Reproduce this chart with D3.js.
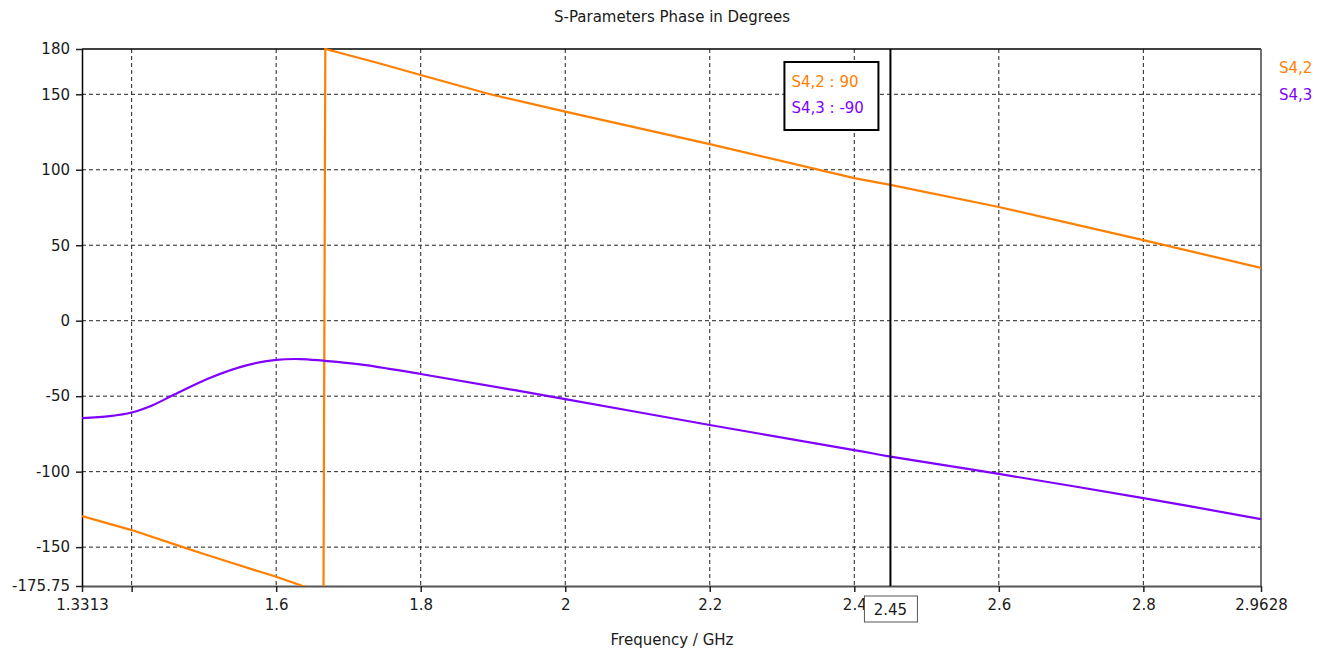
<!DOCTYPE html>
<html>
    <head>
        <meta charset="utf-8">
        <style>
          body { margin: 0; background: #fff; }
          text { font-family: "DejaVu Sans", sans-serif; font-size: 15px; fill: #1a1a1a; }
        </style>
    </head>
    <body>
        <svg width="1335" height="657"></svg>
        <script src="https://d3js.org/d3.v7.min.js"></script>
        <script>
          // values
          var freqS42 = [1.3313, 1.4, 1.471, 1.5, 1.55, 1.6, 1.637, 1.6655, 1.668, 1.741, 1.8, 1.896, 2.0, 2.2, 2.4, 2.45, 2.6, 2.8, 2.9628];
          var phaseS42 = [-129.4, -138.7, -150, -154.5, -162.2, -169.6, -175.75, -180, 180, 170.7, 162.8, 150, 138.5, 117, 94.5, 90, 75.3, 53.4, 35];

          var freqS43 = [1.3313, 1.37, 1.4, 1.43, 1.457, 1.508, 1.56, 1.6, 1.633, 1.665, 1.716, 1.8, 2.0, 2.2, 2.4, 2.45, 2.6, 2.8, 2.9628];
          var phaseS43 = [-64.5, -63.2, -60.8, -55.8, -49.4, -37.9, -29.4, -26.0, -25.4, -26.5, -28.9, -35.3, -51.9, -69.1, -85.7, -90, -101.5, -117.5, -131.4];

          var xTicks = [1.3313, 1.4, 1.6, 1.8, 2.0, 2.2, 2.4, 2.6, 2.8, 2.9628];
          var xTickLabels = ["1.3313", "", "1.6", "1.8", "2", "2.2", "2.4", "2.6", "2.8", "2.9628"];
          var xGrid = [1.4, 1.6, 1.8, 2.0, 2.2, 2.4, 2.6, 2.8];
          var yTicks = [180, 150, 100, 50, 0, -50, -100, -150, -175.75];
          var yGrid = [150, 100, 50, 0, -50, -100, -150];

          var markerFreq = 2.45;
          var markerLabels = ["S4,2 : 90", "S4,3 : -90"];
          var seriesNames = ["S4,2", "S4,3"];
          var colors = ["#ff8000", "#8000ff"];

          var svg = d3.select("svg");
          var margin = {top: 49, right: 74, bottom: 71, left: 82};
          var width = +svg.attr("width") - margin.left - margin.right;
          var height = +svg.attr("height") - margin.top - margin.bottom;

          var g = svg.append("g")
              .attr("transform", "translate(" + margin.left + "," + margin.top + ")");

          var x = d3.scaleLinear()
              .domain([1.3313, 2.9628])
              .range([0, width]);

          var y = d3.scaleLinear()
              .domain([-175.75, 180])
              .range([height, 0]);

          // grid
          g.selectAll(".gx").data(xGrid).enter().append("line")
              .attr("x1", function(d) { return x(d); })
              .attr("x2", function(d) { return x(d); })
              .attr("y1", 0).attr("y2", height)
              .attr("stroke", "#222").attr("stroke-dasharray", "4,3");

          g.selectAll(".gy").data(yGrid).enter().append("line")
              .attr("x1", 0).attr("x2", width)
              .attr("y1", function(d) { return y(d); })
              .attr("y2", function(d) { return y(d); })
              .attr("stroke", "#222").attr("stroke-dasharray", "4,3");

          // frame
          g.append("line").attr("x1", 0).attr("x2", width).attr("y1", 0).attr("y2", 0)
              .attr("stroke", "#000").attr("stroke-width", 1.5);
          g.append("line").attr("x1", width).attr("x2", width).attr("y1", 0).attr("y2", height)
              .attr("stroke", "#444").attr("stroke-width", 1.5);

          // axes
          var xAxis = d3.axisBottom(x)
              .tickValues(xTicks)
              .tickSize(6)
              .tickSizeOuter(0)
              .tickFormat(function(d, i) { return xTickLabels[i]; });

          var yAxis = d3.axisLeft(y)
              .tickValues(yTicks)
              .tickSize(6)
              .tickSizeOuter(0)
              .tickFormat(function(d) { return d; });

          var gx = g.append("g")
              .attr("transform", "translate(0," + height + ")")
              .call(xAxis);
          gx.select(".domain").attr("stroke", "#555").attr("stroke-width", 2);
          gx.selectAll(".tick line").attr("stroke", "#222").attr("stroke-width", 1.5);
          gx.selectAll("text").attr("font-size", null).attr("font-family", null)
              .attr("fill", "#1a1a1a").attr("dy", "1.05em").attr("y", 8);

          var gy = g.append("g").call(yAxis);
          gy.select(".domain").attr("stroke", "#000").attr("stroke-width", 1.5);
          gy.selectAll(".tick line").attr("stroke", "#222").attr("stroke-width", 1.5);
          gy.selectAll("text").attr("font-size", null).attr("font-family", null)
              .attr("fill", "#1a1a1a").attr("x", -12);

          // curves
          svg.append("defs").append("clipPath")
              .attr("id", "clip")
              .append("rect")
              .attr("y", -1)
              .attr("width", width)
              .attr("height", height + 1);

          var line = d3.line()
              .x(function(d) { return x(d[0]); })
              .y(function(d) { return y(d[1]); });

          var s42 = freqS42.map(function(f, i) { return [f, phaseS42[i]]; });
          var s43 = freqS43.map(function(f, i) { return [f, phaseS43[i]]; });

          g.append("path")
              .datum(s42)
              .attr("fill", "none")
              .attr("stroke", colors[0])
              .attr("stroke-width", 2.2)
              .attr("clip-path", "url(#clip)")
              .attr("d", line.curve(d3.curveLinear));

          g.append("path")
              .datum(s43)
              .attr("fill", "none")
              .attr("stroke", colors[1])
              .attr("stroke-width", 2.2)
              .attr("clip-path", "url(#clip)")
              .attr("d", line.curve(d3.curveCatmullRom));

          // marker
          g.append("line")
              .attr("x1", x(markerFreq)).attr("x2", x(markerFreq))
              .attr("y1", 0).attr("y2", height)
              .attr("stroke", "#000").attr("stroke-width", 2);

          g.append("rect")
              .attr("x", x(markerFreq) - 26).attr("y", height + 10)
              .attr("width", 53).attr("height", 26)
              .attr("fill", "#fff").attr("stroke", "#555");
          g.append("text")
              .attr("x", x(markerFreq)).attr("y", height + 29)
              .attr("text-anchor", "middle")
              .text(markerFreq);

          var box = g.append("g")
              .attr("transform", "translate(" + (x(markerFreq) - 106) + ",13)");
          box.append("rect")
              .attr("width", 94).attr("height", 68)
              .attr("fill", "#fff").attr("stroke", "#000").attr("stroke-width", 2);
          box.selectAll("text").data(markerLabels).enter().append("text")
              .attr("x", 7)
              .attr("y", function(d, i) { return 25 + i * 26; })
              .style("fill", function(d, i) { return colors[i]; })
              .text(function(d) { return d; });

          // legend
          svg.selectAll(".legend").data(seriesNames).enter().append("text")
              .attr("x", 1279)
              .attr("y", function(d, i) { return 73 + i * 27; })
              .style("fill", function(d, i) { return colors[i]; })
              .text(function(d) { return d; });

          // titles
          svg.append("text")
              .attr("x", 672).attr("y", 22)
              .attr("text-anchor", "middle")
              .attr("font-size", "14.5px")
              .text("S-Parameters Phase in Degrees");

          svg.append("text")
              .attr("x", 672).attr("y", 645)
              .attr("text-anchor", "middle")
              .text("Frequency / GHz");
        </script>
    </body>
</html>
